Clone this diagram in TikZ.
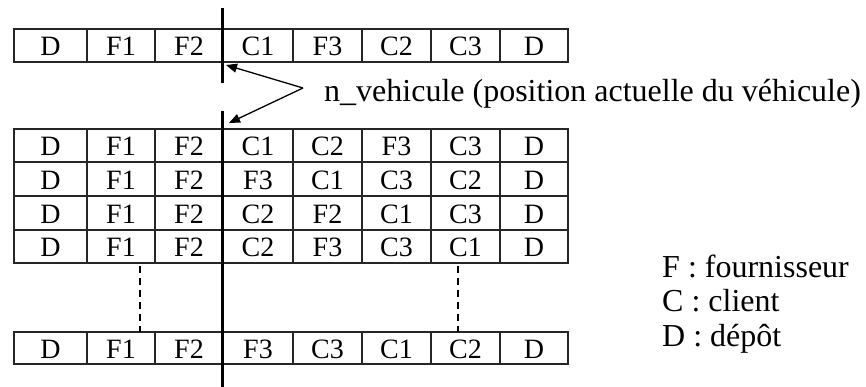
\documentclass[tikz,border=0pt]{standalone}
\usepackage{fontspec}
\setmainfont{Liberation Serif}
\usetikzlibrary{arrows.meta}
\begin{document}
\begin{tikzpicture}[x=1pt,y=-1pt,
  cellline/.style={draw=black!85, line width=1.4pt},
  celltext/.style={inner sep=0pt, font=\fontsize{28}{30}\selectfont},
  bigtext/.style={inner sep=0pt, anchor=base west, font=\fontsize{32}{36}\selectfont},
  posline/.style={line width=3.6pt, black},
  pointer/.style={line width=1.3pt, -{Triangle[length=11pt,width=9pt]}},
  gapline/.style={line width=1.4pt, dash pattern=on 7pt off 5pt}]
\useasboundingbox (0,0) rectangle (866,387);
\fill[white] (0,0) rectangle (866,387);
\def\colx{{14,87,155,223,293,362,431,500,568}}
% rows: name / top / bottom / contents
\foreach \rn/\ya/\yb/\cells in {
  a/29/62/{D,F1,F2,C1,F3,C2,C3,D},
  b/129/162/{D,F1,F2,C1,C2,F3,C3,D},
  c/162/196/{D,F1,F2,F3,C1,C3,C2,D},
  d/196/230/{D,F1,F2,C2,F2,C1,C3,D},
  e/230/263/{D,F1,F2,C2,F3,C3,C1,D},
  f/332/364/{D,F1,F2,F3,C3,C1,C2,D}}{
  \foreach \t [count=\i] in \cells {
    \pgfmathsetmacro\xa{\colx[\i-1]}
    \pgfmathsetmacro\xb{\colx[\i]}
    \draw[cellline] (\xa,\ya) rectangle (\xb,\yb);
    \node[celltext] (\rn\i) at ({(\xa+\xb)/2},{(\ya+\yb)/2+1}) {\t};
  }
}
% position line
\coordinate (pt1) at (222.5,8);
\coordinate (pt2) at (222.5,83);
\coordinate (pb1) at (222.5,111);
\coordinate (pb2) at (222.5,387);
\draw[posline] (pt1) -- (pt2);
\draw[posline] (pb1) -- (pb2);
% dashed continuation lines
\coordinate (g1a) at (140,266);
\coordinate (g1b) at (140,332);
\coordinate (g2a) at (458,266);
\coordinate (g2b) at (458,332);
\draw[gapline] (g1a) -- (g1b);
\draw[gapline] (g2a) -- (g2b);
% pointer arrows
\coordinate (src) at (303,88);
\coordinate (tipU) at (226,65);
\coordinate (tipL) at (229,123);
\draw[pointer] (src) -- (tipU);
\draw[pointer] (src) -- (tipL);
% labels
\node[bigtext] (lbl) at (324,102) {n\_vehicule (position actuelle du véhicule)};
\node[bigtext] (legF) at (662,277) {F : fournisseur};
\node[bigtext] (legC) at (662,311) {C : client};
\node[bigtext] (legD) at (662,346) {D : dépôt};
\end{tikzpicture}
\end{document}
